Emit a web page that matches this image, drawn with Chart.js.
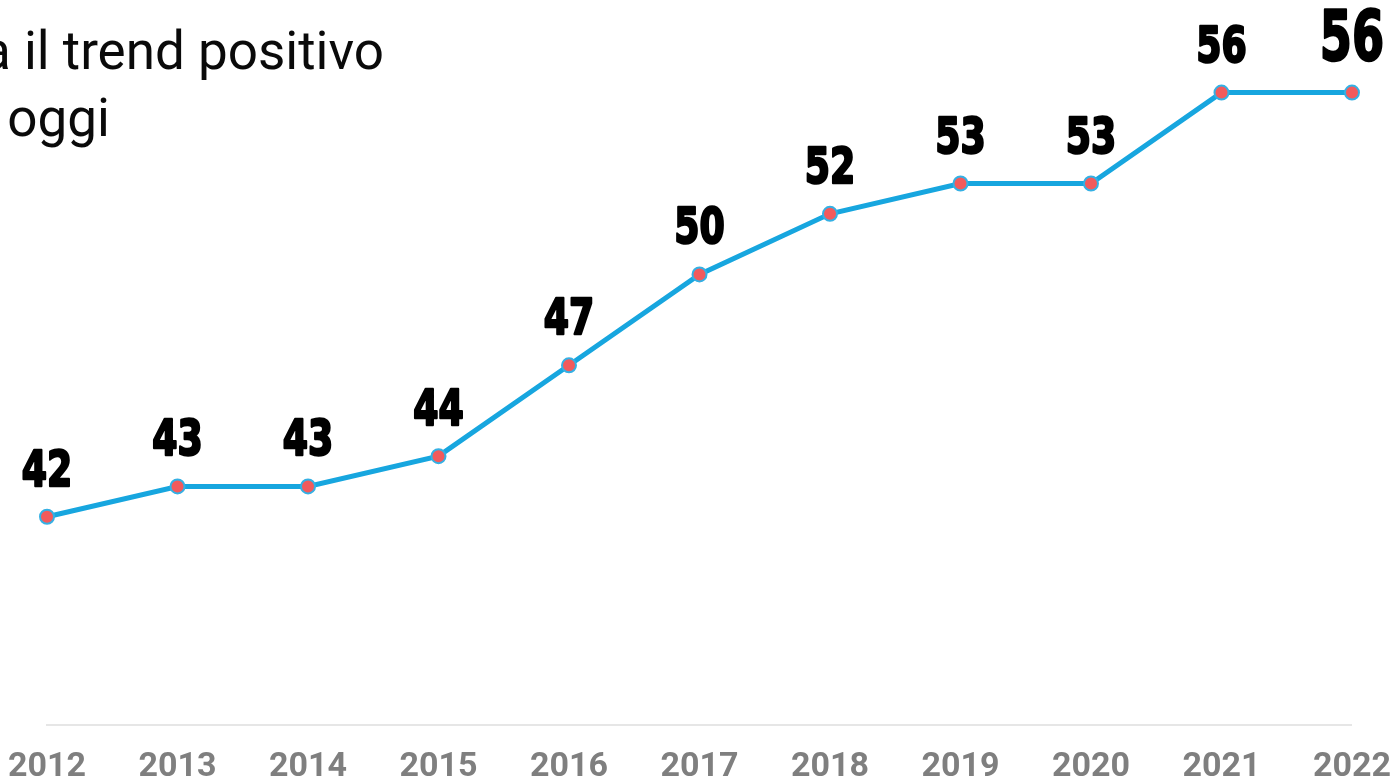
<!DOCTYPE html>
<html>
<head>
<meta charset="utf-8">
<script src="https://cdn.jsdelivr.net/npm/chart.js@4"></script>
<style>
    html, body { margin: 0; padding: 0; background: #fff; overflow: hidden; }
    #wrap { position: relative; width: 1394px; height: 781px; overflow: hidden; }
    #trendChart { position: absolute; left: -6px; top: 0; }
    .title { position: absolute; font-family: Roboto, sans-serif; font-size: 53px; color: #0a0a0a; white-space: nowrap; line-height: 1; }
    #t1 { right: 1010px; top: 25px; }
    #t2 { right: 1284px; top: 92px; }
</style>
</head>
<body>
<div id="wrap">
    <canvas id="trendChart" width="1411" height="802"></canvas>
    <div class="title" id="t1">Continua il trend positivo</div>
    <div class="title" id="t2">fino ad oggi</div>
</div>
<script>
const years = ['2012', '2013', '2014', '2015', '2016', '2017', '2018', '2019', '2020', '2021', '2022'];
const values = [42, 43, 43, 44, 47, 50, 52, 53, 53, 56, 56];

// draws the big condensed numbers above each point
const valueLabels = {
    id: 'valueLabels',
    afterDatasetsDraw(chart) {
        const ctx = chart.ctx;
        const meta = chart.getDatasetMeta(0);
        meta.data.forEach((pt, i) => {
            const last = i === meta.data.length - 1;
            const size = last ? 70 : 49;
            const squeeze = last ? 0.66 : 0.74;
            ctx.save();
            ctx.translate(pt.x, pt.y - (last ? 33 : 31));
            ctx.scale(squeeze, 1);
            ctx.font = `bold ${size}px "DejaVu Sans"`;
            ctx.fillStyle = '#000';
            ctx.strokeStyle = '#000';
            ctx.lineWidth = 2.5;
            ctx.lineJoin = 'round';
            ctx.textAlign = 'center';
            ctx.textBaseline = 'alphabetic';
            ctx.strokeText(String(values[i]), 0, 0);
            ctx.fillText(String(values[i]), 0, 0);
            ctx.restore();
        });
    }
};

new Chart(document.getElementById('trendChart'), {
    type: 'line',
    data: {
        labels: years,
        datasets: [{
            data: values,
            borderColor: '#17a6df',
            borderWidth: 5,
            pointBackgroundColor: '#f25a5c',
            pointBorderColor: '#35b0e4',
            pointBorderWidth: 2,
            pointRadius: 7,
            tension: 0
        }]
    },
    options: {
        responsive: false,
        animation: false,
        layout: { padding: { left: 40, right: 32, top: 1, bottom: 0 } },
        plugins: { legend: { display: false }, tooltip: { enabled: false } },
        scales: {
            x: {
                grid: { display: false },
                border: { color: '#e6e6e6', width: 2 },
                ticks: {
                    color: '#7f7f7f',
                    font: { family: 'Roboto', weight: 'bold', size: 34 },
                    padding: 14,
                    maxRotation: 0,
                    autoSkip: false
                }
            },
            y: { display: false, min: 35.12, max: 58.76 }
        }
    },
    plugins: [valueLabels]
});
</script>
</body>
</html>
